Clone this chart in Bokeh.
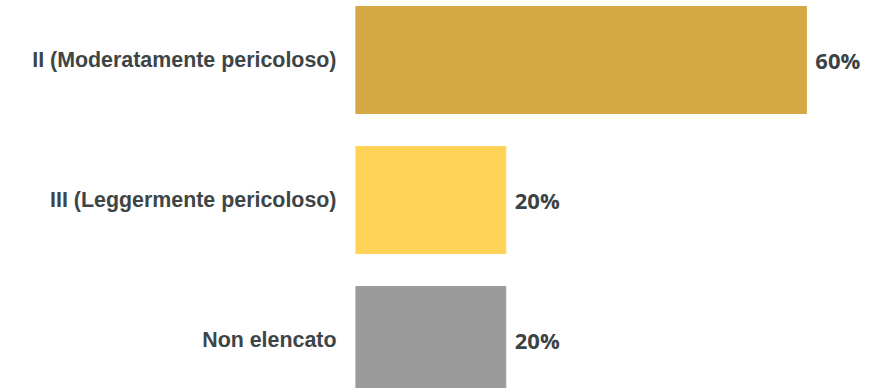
from bokeh.plotting import figure
from bokeh.models import Range1d, FixedTicker, ColumnDataSource
from bokeh.core.properties import value
from bokeh.embed import file_html
from bokeh.resources import INLINE

categories = ["II (Moderatamente pericoloso)", "III (Leggermente pericoloso)", "Non elencato"]
values = [60, 20, 20]
labels = ["60%", "20%", "20%"]
colors = ["#D4A843", "#FED358", "#9B9B9B"]

n = len(categories)
ypos = [n - 1 - i for i in range(n)]  # first category on top

src = ColumnDataSource(dict(y=ypos, v=values, lab=labels, c=colors))

p = figure(width=893, height=388, output_backend="svg", toolbar_location=None,
           x_range=Range1d(0, 71.6), y_range=Range1d(-0.346, 2.425),
           min_border_left=355, min_border_right=0, min_border_top=0, min_border_bottom=0)
p.outline_line_color = None
p.grid.visible = False
p.xaxis.visible = False

p.hbar(y="y", left=0, right="v", height=0.764, color="c", source=src)
p.text(x="v", y="y", text="lab", source=src, x_offset=9, text_baseline="middle",
       text_font=value("Open Sans"), text_font_style="bold", text_font_size="22px",
       text_color="#3C4345")

ya = p.yaxis[0]
ya.ticker = FixedTicker(ticks=ypos)
ya.major_label_overrides = {y: c for y, c in zip(ypos, categories)}
ya.axis_line_color = None
ya.major_tick_line_color = None
ya.minor_tick_line_color = None
ya.major_label_standoff = 13
ya.major_label_text_font = "Liberation Sans"
ya.major_label_text_font_style = "bold"
ya.major_label_text_font_size = "21.4px"
ya.major_label_text_color = "#3E4547"

open("out.html", "w").write(file_html(p, INLINE))
